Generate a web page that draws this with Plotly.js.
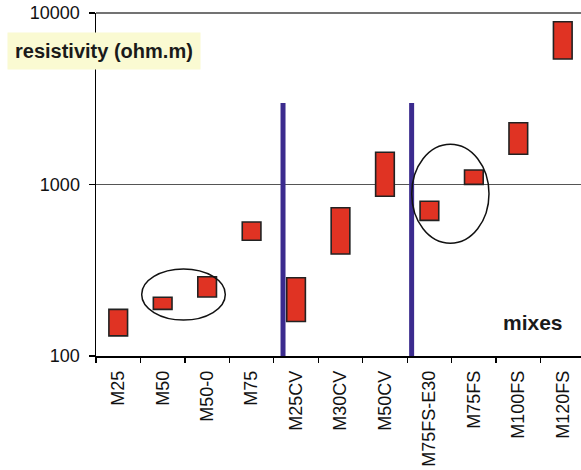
<!DOCTYPE html>
<html>
<head>
<meta charset="utf-8">
<script src="https://cdn.plot.ly/plotly-3.0.1.min.js"></script>
<style>html,body{margin:0;padding:0;background:#fff}#chart{width:581px;height:470px}</style>
</head>
<body>
<div id="chart"></div>
<script>
const mixes = ["M25","M50","M50-0","M75","M25CV","M30CV","M50CV","M75FS-E30","M75FS","M100FS","M120FS"];
const lowValues  = [131, 187, 221, 473, 159, 393, 854, 618, 1002, 1500, 5390];
const highValues = [187, 220, 290, 604, 286, 732, 1541, 798, 1215, 2291, 8900];
const yTickVals = [100, 1000, 10000];
const yTickText = ["100", "1000", "10000"];

const spans = highValues.map((h, i) => h - lowValues[i]);

const trace = {
  type: 'bar',
  x: mixes,
  y: spans,
  base: lowValues,
  width: 0.42,
  marker: {color: '#e03323', line: {color: '#222222', width: 1.6}},
  hoverinfo: 'skip'
};

const font = "Liberation Sans, Arial, sans-serif";

const layout = {
  width: 581, height: 470,
  margin: {l: 96, r: 0, t: 13, b: 114},
  paper_bgcolor: '#fff', plot_bgcolor: '#fff',
  showlegend: false,
  bargap: 0,
  xaxis: {
    type: 'category',
    range: [-0.5, 10.41],
    showline: true, linecolor: '#000', linewidth: 1.5,
    ticks: 'outside', ticklen: 5, tickcolor: '#000', tickwidth: 1.2,
    tickson: 'boundaries',
    ticklabelstandoff: 6,
    showgrid: false,
    tickangle: -90,
    tickfont: {family: font, size: 18, color: '#111'},
    fixedrange: true
  },
  yaxis: {
    type: 'log',
    range: [2, 4],
    tickvals: yTickVals, ticktext: yTickText,
    showline: true, linecolor: '#000', linewidth: 1.5,
    ticks: 'outside', ticklen: 6, tickcolor: '#000', tickwidth: 1.2,
    ticklabelstandoff: 5,
    showgrid: true, gridcolor: '#555', gridwidth: 1.2,
    tickfont: {family: font, size: 18, color: '#111'},
    fixedrange: true
  },
  shapes: [
    {type: 'line', xref: 'paper', yref: 'paper', x0: 0, x1: 1, y0: 1, y1: 1, line: {color: '#444', width: 1.5}},
    {type: 'line', xref: 'x', yref: 'paper', x0: 3.707, x1: 3.707, y0: 0, y1: 0.7376, line: {color: '#3b2b8e', width: 5}},
    {type: 'line', xref: 'x', yref: 'paper', x0: 6.60, x1: 6.60, y0: 0, y1: 0.7376, line: {color: '#3b2b8e', width: 5}},
    {type: 'circle', xref: 'paper', yref: 'paper', x0: 0.0942, x1: 0.2666, y0: 0.105, y1: 0.2536, line: {color: '#111', width: 1.5}},
    {type: 'circle', xref: 'paper', yref: 'paper', x0: 0.651, x1: 0.8103, y0: 0.3286, y1: 0.6172, line: {color: '#111', width: 1.5}}
  ],
  annotations: [
    {xref: 'paper', yref: 'paper', x: 0.0175, y: 0.8878, xanchor: 'center', yanchor: 'middle',
     text: '<b>resistivity (ohm.m)</b>', showarrow: false, bgcolor: '#fafad2', borderpad: 7,
     font: {family: font, size: 20, color: '#1a1a1a'}},
    {xref: 'paper', yref: 'paper', x: 0.901, y: 0.099, xanchor: 'center', yanchor: 'middle',
     text: '<b>mixes</b>', showarrow: false,
     font: {family: font, size: 21, color: '#1a1a1a'}}
  ]
};

Plotly.newPlot('chart', [trace], layout, {displayModeBar: false, staticPlot: true});
</script>
</body>
</html>
